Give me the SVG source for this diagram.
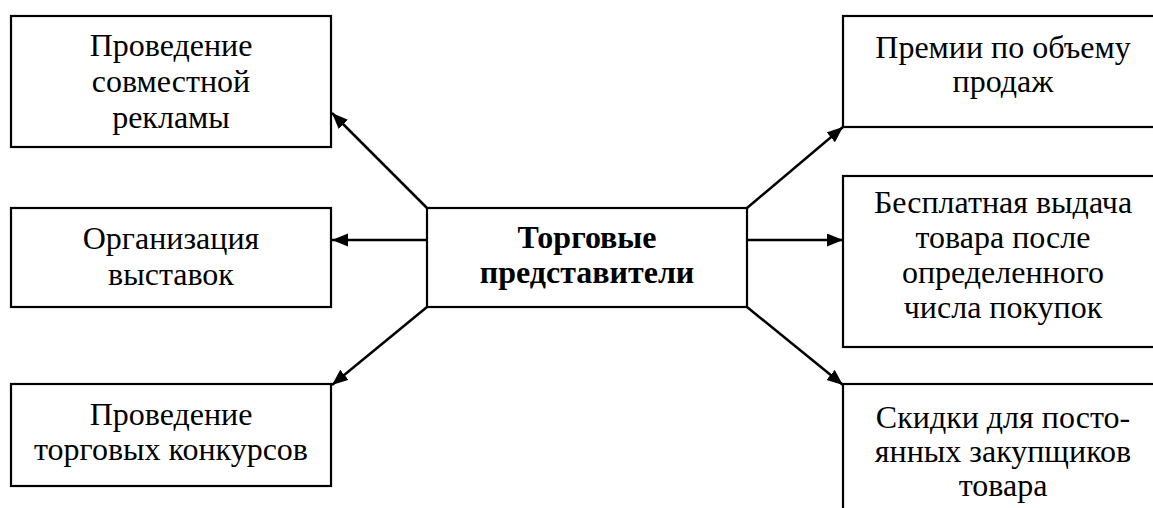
<svg xmlns="http://www.w3.org/2000/svg" width="1153" height="508" viewBox="0 0 1153 508">
<defs>
<style>
.box{fill:#fff;stroke:#000;stroke-width:2.2}
.t{font-family:'Liberation Serif','DejaVu Serif',serif;font-size:32px;fill:#000;text-anchor:middle}
.b{font-weight:bold}
.c{stroke:#000;stroke-width:2.5;fill:none;marker-end:url(#ah)}
</style>
<marker id="ah" markerUnits="userSpaceOnUse" markerWidth="18" markerHeight="14" refX="16" refY="6.5" orient="auto">
<path d="M0,0 L16,6.5 L0,13 z" fill="#000"/>
</marker>
</defs>
<rect width="1153" height="508" fill="#fff"/>
<g id="connectors">
<line class="c" x1="427" y1="208" x2="332" y2="113"/>
<line class="c" x1="427" y1="240" x2="332" y2="240"/>
<line class="c" x1="427" y1="307" x2="332" y2="385"/>
<line class="c" x1="747" y1="208" x2="843" y2="127"/>
<line class="c" x1="747" y1="240" x2="843" y2="240"/>
<line class="c" x1="747" y1="307" x2="843" y2="385"/>
</g>
<g id="center">
<rect class="box" x="427" y="208" width="320" height="99"/>
<text class="t b" x="587" y="248">Торговые</text>
<text class="t b" x="587" y="283">представители</text>
</g>
<g id="left1">
<rect class="box" x="11" y="16" width="320" height="131"/>
<text class="t" x="171" y="56">Проведение</text>
<text class="t" x="171" y="92">совместной</text>
<text class="t" x="171" y="128">рекламы</text>
</g>
<g id="left2">
<rect class="box" x="11" y="208" width="320" height="99"/>
<text class="t" x="171" y="249">Организация</text>
<text class="t" x="171" y="285">выставок</text>
</g>
<g id="left3">
<rect class="box" x="11" y="384" width="320" height="102"/>
<text class="t" x="171" y="425">Проведение</text>
<text class="t" x="171" y="460">торговых конкурсов</text>
</g>
<g id="right1">
<rect class="box" x="843" y="16" width="330" height="111"/>
<text class="t" x="1003" y="58">Премии по объему</text>
<text class="t" x="1003" y="92">продаж</text>
</g>
<g id="right2">
<rect class="box" x="843" y="176" width="330" height="171"/>
<text class="t" x="1003" y="213">Бесплатная выдача</text>
<text class="t" x="1003" y="248">товара после</text>
<text class="t" x="1003" y="283">определенного</text>
<text class="t" x="1003" y="318">числа покупок</text>
</g>
<g id="right3">
<rect class="box" x="843" y="384" width="330" height="150"/>
<text class="t" x="1003" y="428">Скидки для посто-</text>
<text class="t" x="1003" y="462">янных закупщиков</text>
<text class="t" x="1003" y="496">товара</text>
</g>
</svg>
